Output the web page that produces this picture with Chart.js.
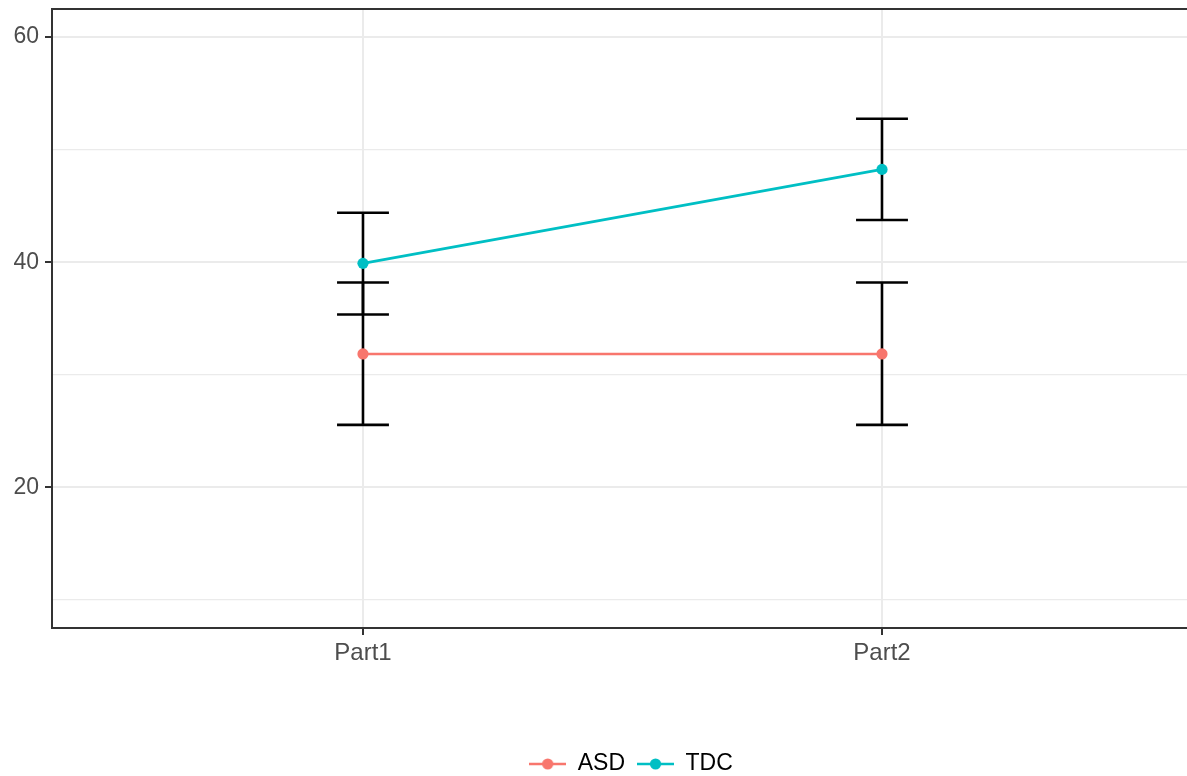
<!DOCTYPE html>
<html><head><meta charset="utf-8">
<script src="https://cdn.jsdelivr.net/npm/chart.js@4"></script>
<style>
html,body{margin:0;padding:0;background:#fff;overflow:hidden;width:1187px;height:776px;}
#wrap{position:absolute;left:0;top:0;width:1210px;height:776px;}
</style></head><body>
<div id="wrap"><canvas id="c" width="1210" height="776"></canvas></div>
<script>
// ---- data ----
const categories = ['Part1', 'Part2'];
const groups = ['ASD', 'TDC'];
const asdMean  = [31.85, 31.85];
const asdLower = [25.55, 25.55];
const asdUpper = [38.2, 38.2];
const tdcMean  = [39.9, 48.25];
const tdcLower = [35.35, 43.75];
const tdcUpper = [44.4, 52.75];
const yMajorTicks = [20, 40, 60];
const yMinorTicks = [10, 30, 50];

const colors = ['#F8766D', '#00BFC4'];
const FONT = '"Liberation Sans", Arial, Helvetica, sans-serif';

function makeKey(color) {
  const c = document.createElement('canvas');
  c.width = 37; c.height = 14;
  const g = c.getContext('2d');
  g.strokeStyle = color; g.lineWidth = 2.6;
  g.beginPath(); g.moveTo(0, 7); g.lineTo(37, 7); g.stroke();
  g.fillStyle = color;
  g.beginPath(); g.arc(18.5, 7, 5.6, 0, Math.PI * 2); g.fill();
  return c;
}

const errorData = [[asdLower, asdUpper], [tdcLower, tdcUpper]];

const errorBars = {
  id: 'errorBars',
  beforeDatasetsDraw(chart) {
    const {ctx, scales: {x, y}} = chart;
    ctx.save();
    ctx.strokeStyle = '#000';
    ctx.lineWidth = 2.6;
    errorData.forEach(([lo, hi]) => {
      categories.forEach((c, i) => {
        const px = x.getPixelForValue(i + 1);
        const half = x.getPixelForValue(i + 1 + 0.05) - px;
        const y1 = y.getPixelForValue(lo[i]);
        const y2 = y.getPixelForValue(hi[i]);
        ctx.beginPath();
        ctx.moveTo(px, y1); ctx.lineTo(px, y2);
        ctx.moveTo(px - half, y1); ctx.lineTo(px + half, y1);
        ctx.moveTo(px - half, y2); ctx.lineTo(px + half, y2);
        ctx.stroke();
      });
    });
    ctx.restore();
  }
};

const panelBorder = {
  id: 'panelBorder',
  afterDraw(chart) {
    const {ctx, chartArea: a} = chart;
    ctx.save();
    ctx.strokeStyle = '#333333';
    ctx.lineWidth = 2;
    ctx.strokeRect(a.left, a.top, a.right - a.left, a.bottom - a.top);
    ctx.restore();
  }
};

const noPad = (s) => { s.paddingTop = 0; s.paddingBottom = 0; s.paddingLeft = 0; s.paddingRight = 0; };

const seriesMeans = [asdMean, tdcMean];

new Chart(document.getElementById('c'), {
  type: 'line',
  data: {
    datasets: groups.map((g, k) => ({
      label: g,
      data: seriesMeans[k].map((v, i) => ({x: i + 1, y: v})),
      borderColor: colors[k],
      backgroundColor: colors[k],
      borderWidth: 2.6,
      pointRadius: 5.6,
      pointBorderWidth: 0,
      pointBackgroundColor: colors[k],
      fill: false,
      tension: 0
    }))
  },
  options: {
    responsive: false,
    animation: false,
    devicePixelRatio: 1,
    layout: {autoPadding: false, padding: {top: 9, left: 0, right: 0, bottom: 0}},
    plugins: {
      tooltip: {enabled: false},
      legend: {
        position: 'bottom',
        fullSize: false,
        maxHeight: 35.5,
        labels: {
          usePointStyle: true,
          pointStyleWidth: 37,
          padding: 12,
          color: '#000',
          font: {family: FONT, size: 23},
          generateLabels: (chart) => chart.data.datasets.map((ds, i) => ({
            text: ds.label,
            pointStyle: makeKey(ds.borderColor),
            fillStyle: ds.borderColor,
            strokeStyle: ds.borderColor,
            lineWidth: 0,
            hidden: false,
            datasetIndex: i,
            fontColor: '#000'
          }))
        }
      }
    },
    scales: {
      x: {
        type: 'linear',
        min: 0.4008,
        max: 2.632,
        afterBuildTicks: (s) => { s.ticks = categories.map((c, i) => ({value: i + 1})); },
        afterFit: (s) => { s.height = 776 - 628 - 35.5; noPad(s); },
        border: {display: false},
        grid: {
          color: '#EBEBEB',
          lineWidth: 2,
          tickColor: '#333333',
          tickWidth: 2,
          tickLength: 7,
          drawTicks: true
        },
        ticks: {
          autoSkip: false,
          maxRotation: 0,
          padding: 4,
          color: '#4D4D4D',
          font: {family: FONT, size: 24},
          callback: (v) => categories[Math.round(v) - 1]
        }
      },
      y: {
        type: 'linear',
        min: 7.5,
        max: 62.5,
        afterBuildTicks: (s) => {
          s.ticks = [...yMinorTicks, ...yMajorTicks].sort((a, b) => a - b).map(v => ({value: v}));
        },
        afterFit: (s) => { s.width = 52; noPad(s); },
        border: {display: false},
        grid: {
          color: '#EBEBEB',
          lineWidth: (c) => yMajorTicks.includes(c.tick && c.tick.value) ? 2 : 1.2,
          tickColor: (c) => yMajorTicks.includes(c.tick && c.tick.value) ? '#333333' : 'rgba(0,0,0,0)',
          tickWidth: 2,
          tickLength: 7,
          drawTicks: true
        },
        ticks: {
          autoSkip: false,
          padding: 6,
          color: '#4D4D4D',
          font: {family: FONT, size: 23},
          callback: (v) => yMajorTicks.includes(v) ? String(v) : ''
        }
      }
    }
  },
  plugins: [errorBars, panelBorder]
});
</script>
</body></html>
